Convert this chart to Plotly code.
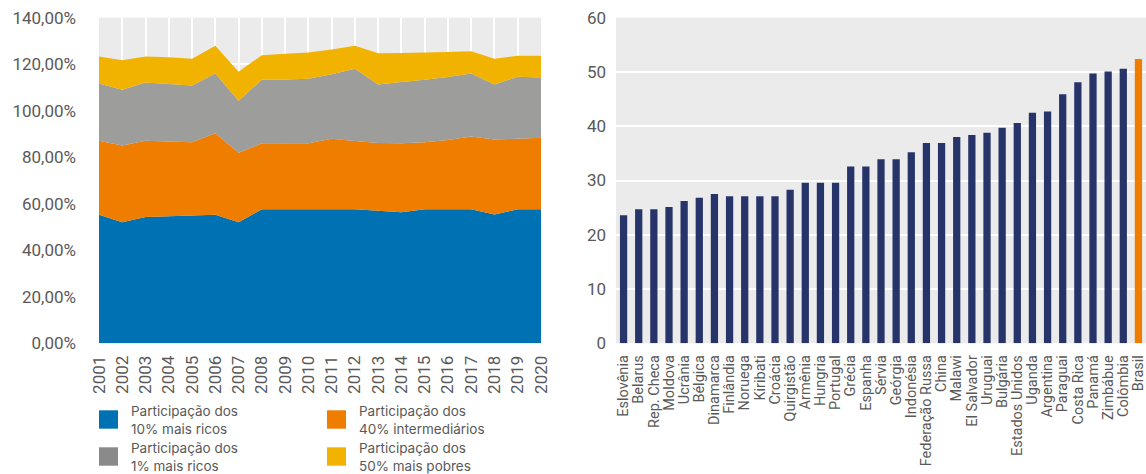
import plotly.graph_objects as go

# Income shares, 2001-2020 (percentage points, stacked)
years = [str(y) for y in range(2001, 2021)]
top10 = [55.3, 52.0, 54.3, 54.6, 55.0, 55.3, 52.0, 57.6, 57.6, 57.6,
         57.6, 57.6, 57.0, 56.4, 57.6, 57.6, 57.6, 55.4, 57.6, 57.6]
middle40 = [31.8, 33.0, 32.8, 32.2, 31.4, 35.0, 29.9, 28.4, 28.4, 28.4,
            30.4, 29.4, 29.1, 29.6, 28.9, 29.8, 31.3, 32.2, 30.4, 30.8]
top1 = [24.6, 24.0, 25.0, 24.7, 24.4, 25.7, 22.4, 27.3, 27.4, 27.7,
        27.7, 31.1, 25.2, 26.3, 26.8, 27.1, 27.1, 23.7, 26.6, 25.9]
bottom50 = [11.6, 12.7, 11.2, 11.5, 11.6, 11.9, 12.5, 10.6, 11.1, 11.3,
            10.6, 9.8, 13.4, 12.5, 11.7, 10.7, 9.6, 11.0, 9.0, 9.3]

series_names = [
    ("Participação dos", "10% mais ricos"),
    ("Participação dos", "40% intermediários"),
    ("Participação dos", "1% mais ricos"),
    ("Participação dos", "50% mais pobres"),
]
series_colors = ["#0071b2", "#ef7d00", "#9d9d9b", "#f1b300"]
legend_colors = ["#0071b2", "#ef7d00", "#8a8a8a", "#f1b300"]

share_ticks = list(range(0, 141, 20))
share_tick_text = [f"{v},00%" for v in share_ticks]

# Gini index by country
countries = ["Eslovênia", "Belarus", "Rep. Checa", "Moldova", "Ucrânia", "Bélgica",
             "Dinamarca", "Finlândia", "Noruega", "Kiribati", "Croácia", "Quirgistão",
             "Armênia", "Hungria", "Portugal", "Grécia", "Espanha", "Sérvia",
             "Geórgia", "Indonésia", "Federação Russa", "China", "Malawi",
             "El Salvador", "Uruguai", "Bulgária", "Estados Unidos", "Uganda",
             "Argentina", "Paraguai", "Costa Rica", "Panamá", "Zimbábue",
             "Colômbia", "Brasil"]
gini = [23.6, 24.7, 24.7, 25.1, 26.2, 26.8, 27.5, 27.1, 27.1, 27.1, 27.1, 28.3,
        29.6, 29.6, 29.6, 32.6, 32.6, 33.9, 33.9, 35.2, 36.9, 36.9, 38.0,
        38.4, 38.8, 39.7, 40.6, 42.5, 42.7, 45.9, 48.1, 49.7, 50.1, 50.6, 52.4]
highlight = "Brasil"

NAVY = "#27346a"
ORANGE = "#ef7d00"
TICK_COLOR = "#595959"
TICK_FONT = "Roboto, Liberation Sans, sans-serif"

fig = go.Figure()

series_values = [top10, middle40, top1, bottom50]
for (l1, l2), vals, col in zip(series_names, series_values, series_colors):
    fig.add_trace(go.Scatter(
        x=years, y=vals, name=f"{l1} {l2}", stackgroup="shares",
        mode="none", fillcolor=col, line=dict(width=0),
        xaxis="x", yaxis="y", showlegend=False,
    ))

bar_colors = [ORANGE if c == highlight else NAVY for c in countries]
fig.add_trace(go.Bar(
    x=countries, y=gini, marker=dict(color=bar_colors, line=dict(width=0)),
    xaxis="x2", yaxis="y2", showlegend=False,
))

H = 474.0
W = 1146.0
y_dom = [(H - 343.3) / H, (H - 17.7) / H]

fig.update_layout(
    width=1146, height=474,
    margin=dict(l=0, r=0, t=0, b=0, autoexpand=False),
    paper_bgcolor="white",
    plot_bgcolor="#ebebeb",
    bargap=0.52,
    xaxis=dict(
        domain=[99 / W, 541 / W], type="category", range=[0, 19],
        tickmode="linear", dtick=1, automargin=False,
        showgrid=True, gridcolor="white", gridwidth=1.5,
        tickangle=-90, ticks="", ticklabelstandoff=8,
        tickfont=dict(family=TICK_FONT, size=17, color=TICK_COLOR),
        zeroline=False, showline=False,
    ),
    yaxis=dict(
        domain=y_dom, range=[0, 140], tickmode="array",
        tickvals=share_ticks, ticktext=share_tick_text, automargin=False,
        showgrid=True, gridcolor="white", gridwidth=1.5,
        ticks="", ticklabelstandoff=22,
        tickfont=dict(family=TICK_FONT, size=17, color=TICK_COLOR),
        zeroline=False, showline=False,
    ),
    xaxis2=dict(
        domain=[616 / W, 1.0], type="category", anchor="y2",
        tickmode="linear", dtick=1, automargin=False,
        showgrid=False, tickangle=-90, ticks="", ticklabelstandoff=8,
        tickfont=dict(family=TICK_FONT, size=14.5, color=TICK_COLOR),
        zeroline=False, showline=False,
    ),
    yaxis2=dict(
        domain=y_dom, range=[0, 60], dtick=10, anchor="x2", automargin=False,
        showgrid=True, gridcolor="white", gridwidth=2,
        ticks="", ticklabelstandoff=9,
        tickfont=dict(family=TICK_FONT, size=17, color=TICK_COLOR),
        zeroline=False, showline=False,
    ),
)

# Legend: 2x2 grid of swatches with two-line labels
legend_slots = [(99, 419.5), (327, 419.5), (99, 456.5), (327, 456.5)]
for idx, (lx, cy) in enumerate(legend_slots):
    fig.add_shape(
        type="rect", xref="paper", yref="paper",
        x0=lx / W, x1=(lx + 19) / W,
        y0=(H - (cy + 9.2)) / H, y1=(H - (cy - 9.2)) / H,
        fillcolor=legend_colors[idx], line=dict(width=0),
    )
    fig.add_annotation(
        xref="paper", yref="paper", x=(lx + 30) / W, y=(H - cy) / H,
        text="<br>".join(series_names[idx]), showarrow=False,
        xanchor="left", yanchor="middle", align="left",
        font=dict(family="Inter, Roboto, sans-serif", size=13.5, color=TICK_COLOR),
    )

fig.write_html("out.html")
